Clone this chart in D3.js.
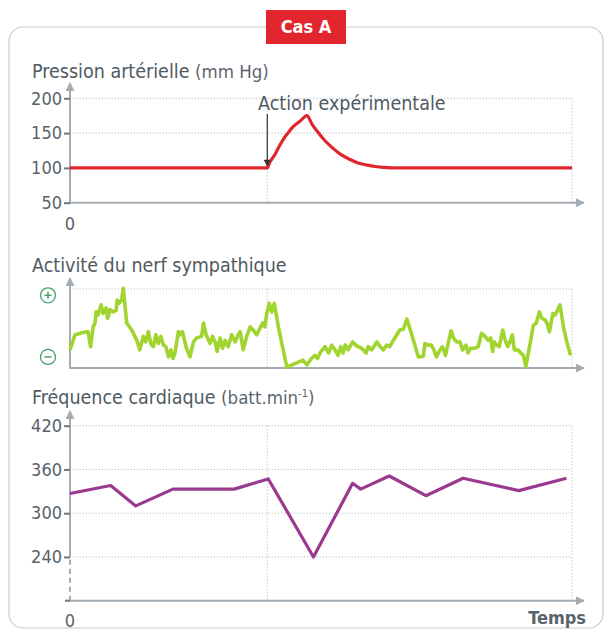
<!DOCTYPE html>
<html>
<head>
<meta charset="utf-8">
<script src="https://cdn.jsdelivr.net/npm/d3@7"></script>
<style>
  body { margin: 0; background: #fff; }
  svg text { font-family: "DejaVu Sans Condensed", "Liberation Sans Narrow", "Noto Sans", sans-serif; }
</style>
</head>
<body>
<div id="vis"></div>
<script>
const width = 605;
const height = 636;

// time runs 0..100, the experimental action happens at t = 39.3
const eventTime = 39.3;

// Pression artérielle (mm Hg)
const pressureTime = [0, 39.3, 39.8, 40.8, 41.6, 42.4, 43.4, 44.4, 45.8, 47.2, 48.2, 49.2, 50.8, 52.4, 54.0, 55.8, 57.4, 59.2, 60.8, 62.4, 65.7, 100];
const pressureValue = [100, 100, 108, 119, 130, 140, 150, 159, 167, 175, 163, 153, 139, 128, 119, 112, 107, 104, 102, 100.8, 100, 100];
const pressureTicks = [50, 100, 150, 200];

// Activité du nerf sympathique (échelle arbitraire 0..10)
const nerveTime = [0, 1.0, 2.6, 3.6, 4.1, 4.6, 5.0, 5.2, 5.6, 6.2, 6.6, 7.2, 7.5, 8.0, 8.6, 9.2, 9.4, 9.8, 10.3, 10.6,
  11.3, 12.3, 13.3, 13.9, 14.6, 15.1, 15.6, 16.1, 16.6, 17.1, 17.6, 18.1, 18.6, 19.1, 19.6, 20.1, 20.5, 20.9,
  21.6, 21.9, 22.4, 23.2, 23.9, 24.6, 25.2, 26.2, 26.6, 27.1, 27.9, 28.4, 28.9, 29.3, 29.9, 30.4, 30.9, 31.5,
  32.2, 32.9, 33.5, 33.9, 34.5, 35.2, 35.9, 36.5, 37.2, 37.8, 38.4, 38.8, 39.2, 39.7, 40.2, 40.7, 41.5,
  43.2, 46.4, 47.2, 48.1, 48.8, 49.3, 49.8, 50.8, 51.5, 52.1, 52.8, 53.4, 53.9, 54.4, 54.8, 55.4, 56.3, 57.1,
  58.1, 59.0, 59.4, 60.1, 61.1, 61.8, 62.4, 63.1, 63.7, 64.7, 65.7, 66.4, 67.1, 67.7, 68.4, 69.4, 70.4, 70.7,
  71.4, 72.0, 72.5, 73.0, 73.7, 74.2, 74.8, 75.4, 75.9, 76.4, 77.0, 77.7, 78.2, 78.9, 79.3, 79.8, 80.7, 81.3,
  82.0, 82.7, 83.3, 83.8, 84.2, 84.5, 85.0, 85.5, 86.2, 86.7, 87.2, 87.6, 88.1, 88.5, 89.2, 89.8, 90.3, 90.8,
  91.6, 92.3, 92.9, 93.5, 94.0, 94.6, 95.0, 95.5, 96.2, 96.6, 97.1, 97.6, 98.3, 98.9, 99.7];
const nerveValue = [2.3, 4.2, 4.5, 4.6, 2.7, 5.2, 5.7, 7.1, 6.7, 8.0, 6.9, 7.6, 6.3, 7.4, 7.1, 7.3, 8.6, 8.2, 8.6, 10.1,
  5.7, 4.8, 3.5, 2.3, 4.0, 3.3, 4.6, 3.1, 2.7, 4.2, 3.1, 4.0, 2.9, 2.7, 1.4, 2.3, 1.2, 1.9,
  4.6, 4.2, 4.6, 2.5, 1.4, 3.3, 3.8, 4.0, 5.7, 4.2, 3.1, 4.0, 3.3, 2.1, 3.8, 2.5, 3.5, 2.7,
  4.2, 3.3, 4.2, 4.6, 2.3, 4.0, 5.2, 4.8, 4.2, 5.0, 5.7, 5.2, 6.9, 8.2, 7.1, 8.2, 5.2,
  0.1, 1.0, 0.4, 1.2, 1.6, 1.2, 1.9, 2.7, 1.9, 2.9, 2.3, 1.6, 2.7, 1.9, 2.9, 2.3, 3.3, 2.8,
  2.5, 1.9, 2.7, 2.3, 3.3, 2.7, 2.3, 2.9, 2.7, 3.8, 4.8, 4.9, 6.2, 5.0, 3.5, 1.4, 1.5, 3.1,
  2.9, 2.9, 2.3, 1.4, 2.3, 2.7, 1.6, 3.3, 4.7, 3.8, 3.3, 3.3, 2.3, 2.9, 1.9, 2.5, 2.5, 2.7,
  4.4, 4.0, 3.5, 3.8, 2.1, 3.3, 2.9, 2.7, 4.8, 3.5, 2.7, 3.3, 4.2, 2.3, 2.3, 1.9, 1.6, 0.2,
  2.9, 5.4, 5.7, 7.1, 6.3, 6.1, 5.7, 4.6, 6.9, 6.7, 7.3, 8.0, 5.2, 3.5, 1.6];

// Fréquence cardiaque (batt.min-1)
const heartTime = [0, 8.1, 13.1, 20.5, 32.7, 39.5, 48.5, 56.3, 57.9, 63.6, 70.9, 78.3, 89.4, 98.9];
const heartValue = [327, 338, 310, 333, 333, 347, 240, 341, 333, 351, 324, 348, 331, 348];
const heartTicks = [240, 300, 360, 420];

const x0 = 70, x1 = 572;
const axisColor = "#a3acb3";
const gridColor = "#b9bec2";
const textColor = "#4f5a63";

const svg = d3.select("#vis").append("svg")
    .attr("width", width)
    .attr("height", height);

const defs = svg.append("defs");
defs.append("marker")
    .attr("id", "arrow")
    .attr("viewBox", "0 0 10 10")
    .attr("refX", 9).attr("refY", 5)
    .attr("markerWidth", 11).attr("markerHeight", 9)
    .attr("markerUnits", "userSpaceOnUse")
    .attr("orient", "auto")
  .append("path")
    .attr("d", "M0,0 L10,5 L0,10 Z")
    .attr("fill", axisColor);
defs.append("marker")
    .attr("id", "blackArrow")
    .attr("viewBox", "0 0 10 10")
    .attr("refX", 9).attr("refY", 5)
    .attr("markerWidth", 9).attr("markerHeight", 7)
    .attr("markerUnits", "userSpaceOnUse")
    .attr("orient", "auto")
  .append("path")
    .attr("d", "M0,0 L10,5 L0,10 Z")
    .attr("fill", "#333");

// frame
svg.append("rect")
    .attr("x", 9).attr("y", 27)
    .attr("width", 594).attr("height", 601)
    .attr("rx", 14)
    .attr("fill", "none")
    .attr("stroke", "#c9cccf")
    .attr("stroke-width", 1.2);

// label "Cas A"
svg.append("rect")
    .attr("x", 266).attr("y", 10)
    .attr("width", 80).attr("height", 34)
    .attr("fill", "#e3262d");
svg.append("text")
    .attr("x", 306).attr("y", 33)
    .attr("text-anchor", "middle")
    .attr("fill", "#fff")
    .attr("font-size", 18)
    .attr("font-weight", "bold")
    .text("Cas A");

const x = d3.scaleLinear().domain([0, 100]).range([x0, x1]);

function drawPanel(opt) {
    const g = svg.append("g");
    const y = opt.y;
    const yTop = y.range()[1];
    const yBottom = y.range()[0];

    // title
    const title = g.append("text")
        .attr("x", 32).attr("y", opt.titleY)
        .attr("fill", textColor)
        .attr("font-size", 19.5);
    title.append("tspan").text(opt.title);
    if (opt.unit) {
        title.append("tspan").attr("font-size", 18.5).attr("fill", "#5c666e").text(opt.unit);
    }

    // grid
    opt.grid.forEach(v => {
        g.append("line")
            .attr("x1", x0).attr("x2", x1)
            .attr("y1", y(v)).attr("y2", y(v))
            .attr("stroke", gridColor).attr("stroke-width", 1)
            .attr("stroke-dasharray", "1.2,2");
    });
    [eventTime, 100].forEach(t => {
        g.append("line")
            .attr("x1", x(t)).attr("x2", x(t))
            .attr("y1", yTop).attr("y2", yBottom)
            .attr("stroke", gridColor).attr("stroke-width", 1)
            .attr("stroke-dasharray", "1.2,2");
    });

    // x axis
    g.append("line")
        .attr("x1", x0).attr("x2", 584)
        .attr("y1", yBottom).attr("y2", yBottom)
        .attr("stroke", axisColor).attr("stroke-width", 2)
        .attr("marker-end", "url(#arrow)");

    // y axis
    if (opt.breakAt !== undefined) {
        g.append("line")
            .attr("x1", x0).attr("x2", x0)
            .attr("y1", yBottom).attr("y2", y(opt.breakAt))
            .attr("stroke", axisColor).attr("stroke-width", 2)
            .attr("stroke-dasharray", "5,4");
        g.append("line")
            .attr("x1", x0).attr("x2", x0)
            .attr("y1", y(opt.breakAt)).attr("y2", opt.arrowTop)
            .attr("stroke", axisColor).attr("stroke-width", 2)
            .attr("marker-end", "url(#arrow)");
    } else {
        g.append("line")
            .attr("x1", x0).attr("x2", x0)
            .attr("y1", yBottom + 1).attr("y2", opt.arrowTop)
            .attr("stroke", axisColor).attr("stroke-width", 2)
            .attr("marker-end", "url(#arrow)");
    }

    if (opt.ticks) {
        const axis = d3.axisLeft(y).tickValues(opt.ticks).tickSize(6).tickPadding(2);
        const ag = g.append("g")
            .attr("transform", `translate(${x0},0)`)
            .call(axis);
        ag.select(".domain").remove();
        ag.selectAll(".tick line").attr("stroke", "#6d767d").attr("stroke-width", 2);
        ag.selectAll(".tick text")
            .attr("fill", "#58626a")
            .attr("font-size", 18)
            .attr("font-family", "DejaVu Sans Condensed, Liberation Sans Narrow, sans-serif");
    }

    // data line
    const line = d3.line()
        .x(d => x(d[0]))
        .y(d => y(d[1]))
        .curve(opt.curve || d3.curveLinear);
    g.append("path")
        .datum(d3.zip(opt.times, opt.values))
        .attr("fill", "none")
        .attr("stroke", opt.color)
        .attr("stroke-width", opt.lineWidth || 3)
        .attr("stroke-linejoin", "round")
        .attr("d", line);

    return g;
}

// Panel 1: pression artérielle
const yP = d3.scaleLinear().domain([50, 200]).range([202.7, 98.3]);
const p1 = drawPanel({
    title: "Pression artérielle ",
    unit: "(mm Hg)",
    titleY: 78,
    y: yP,
    ticks: pressureTicks,
    grid: [150, 200],
    arrowTop: 83,
    times: pressureTime,
    values: pressureValue,
    color: "#e0262c",
    lineWidth: 3.2,
    curve: d3.curveMonotoneX
});
p1.append("text")
    .attr("x", x0).attr("y", 230)
    .attr("text-anchor", "middle")
    .attr("fill", "#58626a").attr("font-size", 18)
    .text("0");
p1.append("text")
    .attr("x", 258).attr("y", 110)
    .attr("fill", textColor).attr("font-size", 19.5)
    .text("Action expérimentale");
p1.append("line")
    .attr("x1", x(eventTime)).attr("x2", x(eventTime))
    .attr("y1", 114).attr("y2", 166)
    .attr("stroke", "#333").attr("stroke-width", 1.2)
    .attr("marker-end", "url(#blackArrow)");

// Panel 2: activité du nerf sympathique
const yN = d3.scaleLinear().domain([0, 10]).range([368, 289]);
const p2 = drawPanel({
    title: "Activité du nerf sympathique",
    titleY: 272,
    y: yN,
    grid: [10],
    arrowTop: 278,
    times: nerveTime,
    values: nerveValue,
    color: "#a0d42e",
    lineWidth: 3.6
});
const signColor = "#3fa06a";
[[9.2, "+"], [1.4, "-"]].forEach(([v, s]) => {
    const cy = yN(v);
    p2.append("circle")
        .attr("cx", 48).attr("cy", cy).attr("r", 7.5)
        .attr("fill", "none").attr("stroke", signColor).attr("stroke-width", 1.3);
    p2.append("line")
        .attr("x1", 44.5).attr("x2", 51.5).attr("y1", cy).attr("y2", cy)
        .attr("stroke", signColor).attr("stroke-width", 1.5);
    if (s === "+") {
        p2.append("line")
            .attr("x1", 48).attr("x2", 48).attr("y1", cy - 3.5).attr("y2", cy + 3.5)
            .attr("stroke", signColor).attr("stroke-width", 1.5);
    }
});

// Panel 3: fréquence cardiaque
const yH = d3.scaleLinear().domain([180, 420]).range([600.7, 425.7]);
const p3 = drawPanel({
    title: "Fréquence cardiaque ",
    unit: "(batt.min",
    titleY: 404,
    y: yH,
    ticks: heartTicks,
    grid: [240, 300, 360, 420],
    breakAt: 240,
    arrowTop: 411,
    times: heartTime,
    values: heartValue,
    color: "#9a3a8f",
    lineWidth: 3.2
});
// superscript and closing parenthesis of the unit
const t3 = p3.select("text");
t3.append("tspan").attr("font-size", 11).attr("dy", -7).attr("fill", "#5c666e").text("-1");
t3.append("tspan").attr("font-size", 18.5).attr("dy", 7).attr("fill", "#5c666e").text(")");
p3.append("line")
    .attr("x1", x0 - 5).attr("x2", x0)
    .attr("y1", 600.7).attr("y2", 600.7)
    .attr("stroke", "#6d767d").attr("stroke-width", 2);
p3.append("text")
    .attr("x", x0).attr("y", 627)
    .attr("text-anchor", "middle")
    .attr("fill", "#58626a").attr("font-size", 18)
    .text("0");
p3.append("text")
    .attr("x", 586).attr("y", 624)
    .attr("text-anchor", "end")
    .attr("fill", "#5a646c").attr("font-size", 18)
    .attr("font-weight", "bold")
    .text("Temps");
</script>
</body>
</html>
